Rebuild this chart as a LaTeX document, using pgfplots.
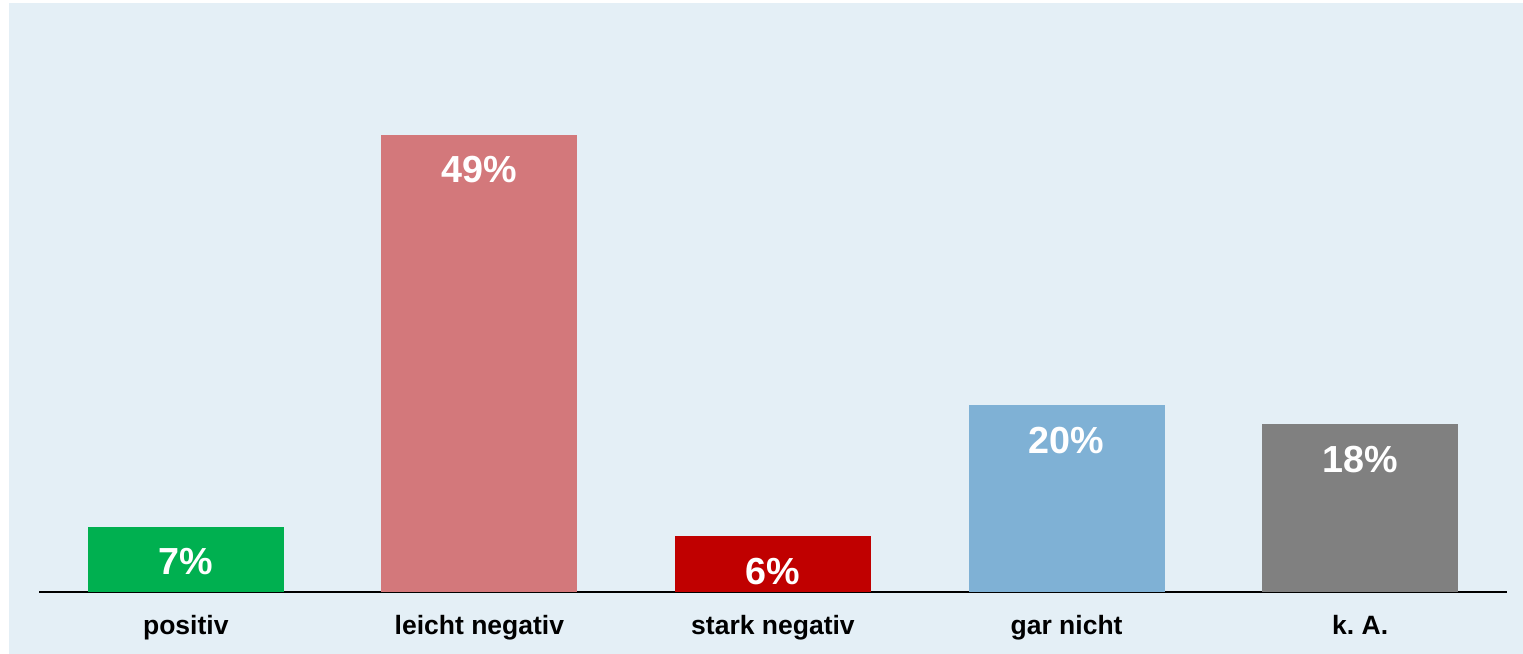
\documentclass[border=0pt]{standalone}
\usepackage{pgfplots}
\pgfplotsset{compat=1.18}
\usepackage{fontspec}
\setmainfont{Liberation Sans}
\frenchspacing
\definecolor{bg}{HTML}{E4EFF6}
\definecolor{cpos}{HTML}{00B050}
\definecolor{cleicht}{HTML}{D3787B}
\definecolor{cstark}{HTML}{C00000}
\definecolor{cgar}{HTML}{7FB1D5}
\definecolor{cka}{HTML}{808080}
\begin{document}
\begin{tikzpicture}
\useasboundingbox (-39bp,-62bp) rectangle (1484bp,592bp);
\fill[white] (-39bp,-62bp) rectangle (1484bp,592bp);
\fill[bg] (-30bp,-62bp) rectangle (1484bp,589bp);
\begin{axis}[
  scale only axis, width=1468bp, height=589bp,
  xmin=-0.5, xmax=4.5, ymin=0, ymax=63.15,
  hide y axis, axis x line*=bottom,
  x axis line style={line width=2.5bp, -, black},
  xtick={0,1,2,3,4},
  xticklabels={positiv, leicht negativ, stark negativ, gar nicht, k.\ A.},
  major tick length=0pt,
  xticklabel style={anchor=base, yshift=-42bp, text=black, font=\fontsize{26.5bp}{30bp}\selectfont\bfseries},
  ybar, bar width=196bp, bar shift=0pt,
  /pgf/number format/assume math mode=true,
  nodes near coords={\pgfmathprintnumber{\pgfplotspointmeta}\%},
  every node near coord/.append style={anchor=base, yshift=-48bp, text=white, font=\fontsize{37.7bp}{40bp}\selectfont\bfseries},
  clip=false,
]
\addplot[fill=cpos, draw=none] coordinates {(0,7)};
\addplot[fill=cleicht, draw=none] coordinates {(1,49)};
\addplot[fill=cstark, draw=none] coordinates {(2,6)};
\addplot[fill=cgar, draw=none] coordinates {(3,20)};
\addplot[fill=cka, draw=none] coordinates {(4,18)};
\end{axis}
\end{tikzpicture}
\end{document}
